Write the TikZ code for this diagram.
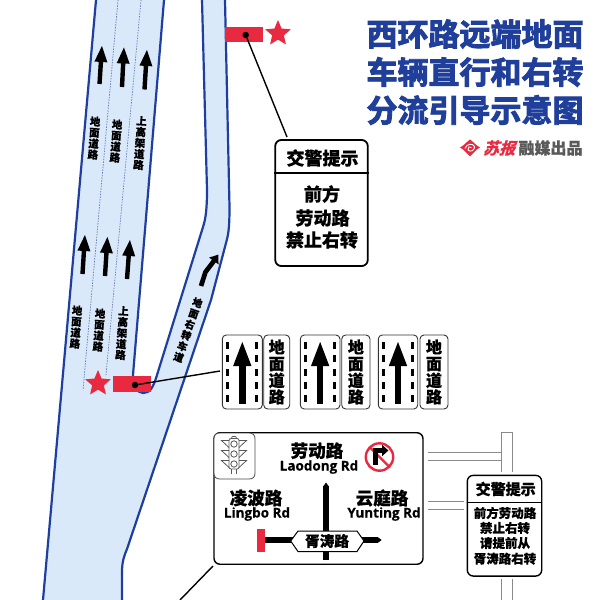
\documentclass[tikz,border=0pt]{standalone}
\usepackage{fontspec}
\setmainfont[BoldFeatures={FakeBold=0.6}]{Noto Sans CJK SC}
\newfontfamily\heavy[FakeBold=3]{Noto Sans CJK SC Bold}
\newfontfamily\slantcjk[FakeSlant=0.3,FakeBold=1.5]{Noto Sans CJK SC Bold}
\newfontfamily\latin[BoldFeatures={FakeBold=0.3}]{Open Sans}
\usetikzlibrary{shapes.geometric,arrows.meta,calc}
\definecolor{roadfill}{HTML}{DAE9F9}
\definecolor{roadedge}{HTML}{1F3FA0}
\definecolor{signred}{HTML}{E8293F}
\definecolor{titleblue}{HTML}{1F3F9A}
\definecolor{poles}{HTML}{8A8A8A}
\newcommand{\fsz}[1]{\fontsize{#1}{#1}\selectfont}
\tikzset{
  x=1pt,y=-1pt,
  roadline/.style={draw=roadedge,line width=2.2pt,line join=round},
  laneline/.style={draw=roadedge!70,line width=0.7pt,dash pattern=on 1.5pt off 1.2pt},
  lanearrow/.style={line width=4.4pt,-{Triangle[length=17pt,width=11.5pt]},black},
  vlabel/.style={align=center,inner sep=0pt,font=\bfseries\fontsize{10.5}{11}\selectfont},
  redbar/.style={fill=signred,draw=none,inner sep=0pt,rectangle},
  redstar/.style={star,star points=5,star point ratio=2.2,fill=signred,draw=none,inner sep=0pt,minimum size=27pt},
  leader/.style={line width=1.4pt,black},
  pointdot/.style={circle,fill=black,inner sep=0pt,minimum size=6.5pt},
  bigbox/.style={draw=black,line width=1.8pt,rounded corners=6pt,fill=white,inner sep=0pt},
  thinbox/.style={draw=black!80,line width=0.9pt,rounded corners=4pt,fill=white,inner sep=0pt},
  pole/.style={draw=poles,line width=1pt},
  dash1/.style={fill=black,draw=none,inner sep=0pt,rectangle,minimum width=3pt,minimum height=7pt},
  cntext/.style={inner sep=0pt,font=\bfseries\fsz{17.5}},
  entext/.style={inner sep=0pt,font=\latin\bfseries\fsz{13.5}},
}
\newcommand{\lanesign}[5]{% name, left x, mid x, right x, end x
  \node[thinbox,minimum width={#3-#2},minimum height=74pt] (#1a) at ({(#2+#3)/2},372) {};
  \node[thinbox,minimum width={#5-#4},minimum height=74pt,align=center,font=\bfseries\fontsize{16}{16.6}\selectfont] (#1b) at ({(#4+#5)/2},372) {地\\面\\道\\路};
  \foreach \yy in {345.5,358.5,372,385,398.5}{
    \node[dash1] at ({#2+5.3},\yy) {};
    \node[dash1] at ({#3-5.6},\yy) {};
  }
  \draw[line width=6.5pt,-{Triangle[length=26pt,width=16pt]}] ({(#2+#3)/2},404) -- ({(#2+#3)/2},340);
}
\begin{document}
\begin{tikzpicture}
\useasboundingbox (0,0) rectangle (600,600);
\fill[white] (0,0) rectangle (600,600);
% road surface
\fill[roadfill] (96,0) -- (43,600) -- (122,600) -- (122,572)
  .. controls (122,562) and (124,556) .. (127,549) -- (211,300) -- (226,243)
  .. controls (228,236) and (229.5,230) .. (229.5,207) -- (225,0) -- (202,0) -- (207,190)
  .. controls (207,207) and (206,218) .. (203,227) -- (157,375)
  .. controls (153,388) and (150,393) .. (143,393) .. controls (137,393) and (133,385) .. (133,375) -- (164,0) -- cycle;
% road edges
\draw[roadline] (96,0) -- (43,600);
\draw[roadline] (122,600) -- (122,572)
  .. controls (122,562) and (124,556) .. (127,549) -- (211,300) -- (226,243)
  .. controls (228,236) and (229.5,230) .. (229.5,207) -- (225,0);
\draw[roadline] (202,0) -- (207,190)
  .. controls (207,207) and (206,218) .. (203,227) -- (157,375)
  .. controls (153,388) and (150,393) .. (143,393) .. controls (137,393) and (133,385) .. (133,375) -- (164,0);
% lane dividers
\draw[laneline] (118,0) -- (83,390);
\draw[laneline] (141,0) -- (106,375);
% lane arrows
\draw[lanearrow] (99.5,84) -- (102,45);
\draw[lanearrow] (122,87) -- (124,46.5);
\draw[lanearrow] (144.5,89.5) -- (147,49);
\draw[lanearrow] (82.5,274) -- (85,234);
\draw[lanearrow] (105,276) -- (107.5,236);
\draw[lanearrow] (127,279) -- (130,239);
\draw[line width=4.7pt,black,line join=round,-{Triangle[length=8pt,width=11pt]}] (201,286) -- (205.5,272) -- (212,263.5) -- (218.5,254.5);
% road labels
\node[vlabel,rotate=-4] (r1) at (94,138) {地\\面\\道\\路};
\node[vlabel,rotate=-4] (r2) at (116,141) {地\\面\\道\\路};
\node[vlabel,rotate=-4] (r3) at (140,143) {上\\高\\架\\道\\路};
\node[vlabel,rotate=-4] (r4) at (76,327) {地\\面\\道\\路};
\node[vlabel,rotate=-4] (r5) at (99,330) {地\\面\\道\\路};
\node[vlabel,rotate=-4] (r6) at (122,333) {上\\高\\架\\道\\路};
\node[vlabel,rotate=-19,font=\bfseries\fontsize{10}{11.5}\selectfont] (r7) at (188,330) {地\\面\\右\\转\\车\\道};
% upper marker
\node[redbar,minimum width=38pt,minimum height=15.5pt] (bar1) at (244,34.5) {};
\node[redstar] (star1) at (278,33.5) {};
\node[pointdot] (dot1) at (245.7,35) {};
% lower marker
\node[redbar,minimum width=38pt,minimum height=16pt] (bar2) at (132,384) {};
\node[redstar] (star2) at (98,383.5) {};
\node[pointdot] (dot2) at (135,385) {};
% warning sign 1
\node[bigbox,minimum width=92.5pt,minimum height=126pt] (warn1) at (321.5,203) {};
\draw[line width=1.2pt] (warn1.west |- 0,173) -- (warn1.east |- 0,173);
\node[inner sep=0pt,font=\bfseries\fsz{18}] (warn1t) at (322.5,158) {交警提示};
\node[inner sep=0pt,font=\bfseries\fsz{18}] (warn1a) at (322,194) {前方};
\node[inner sep=0pt,font=\bfseries\fsz{18}] (warn1b) at (322.5,218) {劳动路};
\node[inner sep=0pt,font=\bfseries\fsz{18}] (warn1c) at (322,240) {禁止右转};
\coordinate (warn1in) at (287,137);
\draw[leader] (dot1) -- (warn1in);
% lane signs
\lanesign{ls1}{222.3}{262.3}{263.7}{289.7}
\lanesign{ls2}{300.3}{340}{341.7}{370}
\lanesign{ls3}{378.3}{417.7}{420}{448}
\coordinate (ls1in) at (220,371);
\draw[leader] (dot2) -- (ls1in);
% poles
\draw[pole] (501,472) -- (501,432.7) -- (512.7,432.7) -- (512.7,472);
\draw[pole] (501,579) -- (501,600) (512.7,579) -- (512.7,600);
\draw[pole] (427.7,452.7) -- (501,452.7) (427.7,460.7) -- (501,460.7);
\draw[pole] (427.7,501) -- (463.5,501) (427.7,509) -- (463.5,509);
% main sign
\node[bigbox,line width=1.4pt,minimum width=209pt,minimum height=131.5pt] (main) at (318.5,498.5) {};
\draw[black!70,line width=0.8pt,fill=white] (214,439) -- (214,473) .. controls (214,477) and (216,479) .. (220,479) -- (249,479) .. controls (253,479) and (255,477) .. (255,473) -- (255,439) .. controls (255,435) and (253,433) .. (249,433) -- (220,433) .. controls (216,433) and (214,435) .. (214,439) -- cycle;
% traffic light
\begin{scope}[draw=black!65,line width=0.8pt]
  \foreach \yy in {444,454,464}{
    \draw (229,{\yy-3.5}) -- (221.5,{\yy-3.5}) -- (229,{\yy+3.5});
    \draw (239,{\yy-3.5}) -- (246.5,{\yy-3.5}) -- (239,{\yy+3.5});
    \draw (234,\yy) circle (3.2);
  }
  \draw[rounded corners=2pt] (229,469) -- (229,438.5) -- (239,438.5) -- (239,469) -- cycle;
  \draw (231.5,437.5) .. controls (232,436) and (236,436) .. (236.5,437.5);
  \draw (231.5,469) -- (231.5,473.5) (236.5,469) -- (236.5,473.5);
\end{scope}
% intersection
\draw[line width=5.5pt,-{Triangle[length=4pt,width=5.5pt]}] (326,560) -- (326,482.5);
\draw[line width=5.5pt,-{Triangle[length=4pt,width=5.5pt]}] (265,540) -- (381.7,540);
\node[redbar,minimum width=8.3pt,minimum height=22.7pt] (stopbar) at (260.8,540.3) {};
\draw[black,line width=1pt,fill=white] (290.7,541) -- (298,531) -- (357,531) -- (364,541) -- (357,551.5) -- (298,551.5) -- cycle;
\node[inner sep=0pt,font=\bfseries\fsz{14.7}] (xutao) at (327,541) {胥涛路};
\node[cntext] (ld) at (317,450.7) {劳动路};
\node[entext] (lde) at (319,467) {Laodong Rd};
\node[cntext] (lb) at (256,498) {凌波路};
\node[entext] (lbe) at (257,514) {Lingbo Rd};
\node[cntext] (yt) at (382,498) {云庭路};
\node[entext] (yte) at (384,514) {Yunting Rd};
% no right turn
\draw[signred,line width=2.4pt] (379.5,457) circle (13.7);
\draw[signred,line width=2.4pt] (369.8,447.3) -- (389.2,466.7);
\draw[line width=4.6pt,-{Triangle[length=6.5pt,width=11pt]},line join=miter] (375.5,465) -- (375.5,450.5) -- (388.5,450.5);
\coordinate (mainout) at (213,566);
\coordinate (mainfar) at (180,600);
\draw[leader] (mainout) -- (mainfar);
% warning sign 2
\node[bigbox,line width=1.4pt,minimum width=74.4pt,minimum height=100.7pt] (warn2) at (504.5,525.7) {};
\draw[line width=1pt] (warn2.west |- 0,502) -- (warn2.east |- 0,502);
\node[inner sep=0pt,font=\bfseries\fsz{15}] (warn2t) at (505.7,489) {交警提示};
\node[inner sep=0pt,font=\bfseries\fsz{12.5}] (w2a) at (505,513) {前方劳动路};
\node[inner sep=0pt,font=\bfseries\fsz{12.5}] (w2b) at (505,528) {禁止右转};
\node[inner sep=0pt,font=\bfseries\fsz{12.5}] (w2c) at (505,543) {请提前从};
\node[inner sep=0pt,font=\bfseries\fsz{12.5}] (w2d) at (505,558.7) {胥涛路右转};
% title
\node[inner sep=0pt,text=titleblue,font=\heavy\fsz{31}] (t1) at (475,34) {西环路远端地面};
\node[inner sep=0pt,text=titleblue,font=\heavy\fsz{31}] (t2) at (475,72) {车辆直行和右转};
\node[inner sep=0pt,text=titleblue,font=\heavy\fsz{31}] (t3) at (475,110) {分流引导示意图};
% logo
\begin{scope}[shift={(470,147.5)}]
  \fill[signred] (-10,0) .. controls (-6,-2) and (-3,-6) .. (0,-8) .. controls (3,-6) and (6,-2) .. (10,0) .. controls (6,2) and (3,6) .. (0,9) .. controls (-3,6) and (-6,2) .. (-10,0) -- cycle;
  \draw[white,line width=0.9pt] (-5,1) .. controls (-3.5,-4) and (3,-4.5) .. (4.5,-1) .. controls (5,3) and (0,5) .. (-2,2.5) .. controls (-3,0) and (0,-2) .. (1.5,0);
\end{scope}
\node[inner sep=0pt,text=signred,font=\slantcjk\fsz{16}] (l1) at (499,148) {苏报};
\node[inner sep=0pt,text=black!65,font=\bfseries\fsz{16}] (l2) at (550.5,148) {融媒出品};
\end{tikzpicture}
\end{document}
